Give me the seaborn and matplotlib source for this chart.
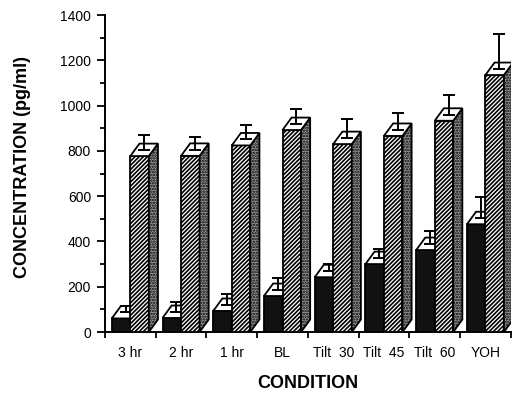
import numpy as np
import pandas as pd
import matplotlib
matplotlib.use('Agg')
import matplotlib.pyplot as plt
import seaborn as sns
from matplotlib.patches import Polygon

conditions = ['3 hr', '2 hr', '1 hr', 'BL', 'Tilt  30', 'Tilt  45', 'Tilt  60', 'YOH']
black_vals = [60, 62, 93, 159, 242, 300, 362, 476]
black_err = [29, 41, 49, 53, 32, 40, 58, 91]
hatch_vals = [777, 778, 824, 892, 830, 866, 933, 1135]
hatch_err = [64, 54, 63, 64, 85, 74, 85, 155]
groups = ['black', 'hatched']

df = pd.DataFrame({
    'condition': conditions * 2,
    'conc': black_vals + hatch_vals,
    'group': [groups[0]] * len(conditions) + [groups[1]] * len(conditions),
})

sns.set_style('ticks')
plt.rcParams['font.family'] = ['Liberation Sans', 'DejaVu Sans']
plt.rcParams['hatch.linewidth'] = 1.2
for key in ['text.color', 'axes.labelcolor', 'xtick.color', 'ytick.color', 'axes.edgecolor']:
    plt.rcParams[key] = 'black'

fig = plt.figure(figsize=(5.17, 3.96), dpi=100)
ax = fig.add_axes([0.203, 0.1616, 0.785, 0.8005])

sns.barplot(data=df, x='condition', y='conc', hue='group', palette=['#111111', 'white'],
            width=0.73, saturation=1, edgecolor='black', linewidth=1.3,
            errorbar=None, legend=False, ax=ax)

# fake 3D depth (x in category units, y in data units)
dx, dy = 0.18, 55
errs = [black_err, hatch_err]
bar_conts = list(ax.containers)
for k, cont in enumerate(bar_conts):
    base_z = 2 + k
    xs, ys = [], []
    for p in cont:
        x0, w, h = p.get_x(), p.get_width(), p.get_height()
        p.set_zorder(base_z)
        if k == 1:
            p.set_hatch('////////')
        side = Polygon([(x0 + w, 0), (x0 + w + dx, dy), (x0 + w + dx, h + dy), (x0 + w, h)],
                       facecolor='#9a9a9a', edgecolor='black', hatch='......', lw=1.3,
                       zorder=base_z + 0.1)
        top = Polygon([(x0, h), (x0 + w, h), (x0 + w + dx, h + dy), (x0 + dx, h + dy)],
                      facecolor='white', edgecolor='black', lw=1.3, zorder=base_z + 0.2)
        ax.add_patch(side)
        ax.add_patch(top)
        xs.append(x0 + w / 2 + dx / 2)
        ys.append(h + dy / 2)
    ax.errorbar(xs, ys, yerr=[np.zeros(len(xs)), errs[k]], fmt='none', ecolor='black',
                elinewidth=1.4, capsize=4, capthick=1.4, zorder=base_z + 0.3)

ax.set_xlim(-0.5, len(conditions) - 0.5)
ax.set_ylim(0, 1400)
ax.set_yticks(np.arange(0, 1401, 200))
ax.set_yticks(np.arange(0, 1401, 100), minor=True)
ax.set_xticks(np.arange(len(conditions)))
ax.set_xticklabels(conditions)
ax.set_xticks(np.arange(len(conditions) + 1) - 0.5, minor=True)
ax.tick_params(axis='x', which='major', length=0, pad=10, labelsize=10)
ax.tick_params(axis='x', which='minor', length=4, width=1.3)
ax.tick_params(axis='y', which='major', length=6, width=1.3, pad=4, labelsize=10)
ax.tick_params(axis='y', which='minor', length=3.5, width=1.3)

sns.despine(ax=ax)
for s in ['left', 'bottom']:
    ax.spines[s].set_linewidth(1.4)

ax.set_xlabel('CONDITION', fontsize=13, fontweight='bold', labelpad=11)
ax.set_ylabel('CONCENTRATION (pg/ml)', fontsize=13, fontweight='bold')
ax.yaxis.set_label_coords(-0.183, 0.519)

fig.savefig('out.png', dpi=100)
plt.close()
